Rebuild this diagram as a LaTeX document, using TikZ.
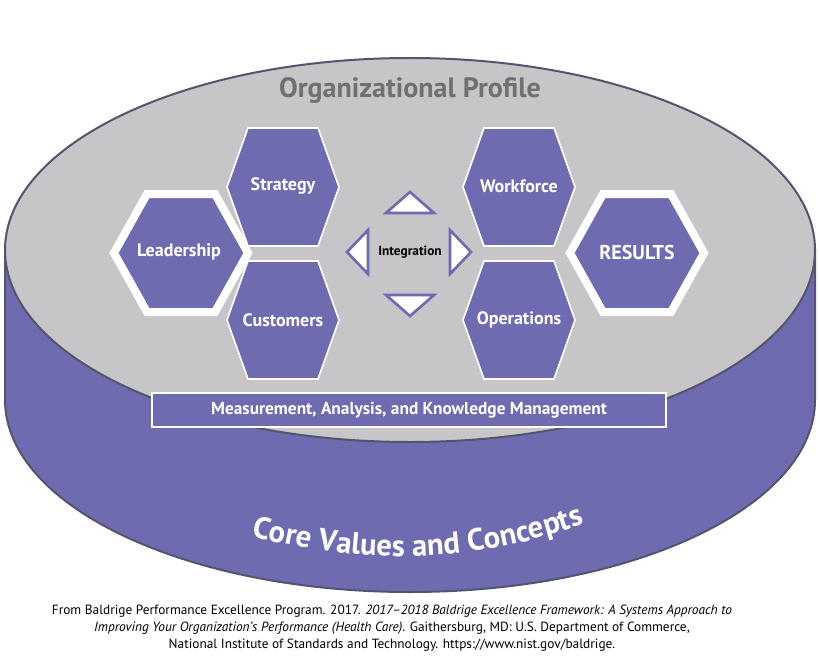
\documentclass[tikz,border=0pt]{standalone}
\usepackage{fontspec}
\setmainfont{PT Sans}
\usetikzlibrary{decorations.text}
\definecolor{hexpurple}{RGB}{111,107,176}
\definecolor{diskgray}{RGB}{198,198,200}
\definecolor{rimline}{RGB}{85,84,110}
\definecolor{titlegray}{RGB}{112,112,114}
% hexagon: centre x, centre y, half width, half top edge, half height
\newcommand{\hexshape}[6][]{\draw[#1] (#2-#4,#3) -- (#2-#5,#3-#6) -- (#2+#5,#3-#6) -- (#2+#4,#3) -- (#2+#5,#3+#6) -- (#2-#5,#3+#6) -- cycle;}
\tikzset{
  hexfill/.style={fill=hexpurple,draw=white,line width=1.2pt,line join=miter},
  bighex/.style={fill=hexpurple,draw=white,line width=6pt,line join=miter},
  hexlabel/.style={text=white,font=\bfseries\fontsize{13.5}{15}\selectfont},
  arrowtri/.style={fill=white,draw=hexpurple,line width=2pt,line join=miter},
}
\begin{document}
\begin{tikzpicture}[x=0.75pt,y=0.75pt,yscale=-1,xscale=1]
        \useasboundingbox (0,0) rectangle (820,667);
        \fill[white] (0,0) rectangle (820,667);
        % cylinder
        \draw[rimline,line width=1.5pt,fill=hexpurple] (5,250) -- (5,400) arc[start angle=180,end angle=0,x radius=405,y radius=192] -- (815,250) -- cycle;
        \draw[rimline,line width=1.5pt,fill=diskgray] (410,250) ellipse [x radius=405,y radius=192];
        \node (profile) at (410,90) {\textcolor{titlegray}{\bfseries\fontsize{21}{24}\selectfont Organizational Profile}};
        % hexagons
        \hexshape[hexfill]{283}{187}{56}{35}{59}
        \hexshape[hexfill]{283}{320}{56}{35}{59}
        \hexshape[hexfill]{519}{187}{56}{35}{59}
        \hexshape[hexfill]{519}{320}{56}{35}{59}
        \hexshape[bighex]{181}{253}{67}{34}{59}
        \hexshape[bighex]{637}{253}{67}{34}{59}
        \node[hexlabel] (strategy) at (283,186) {Strategy};
        \node[hexlabel] (customers) at (283,320) {Customers};
        \node[hexlabel] (workforce) at (519,186) {Workforce};
        \node[hexlabel] (operations) at (519,320) {Operations};
        \node[hexlabel] (leadership) at (179,252) {Leadership};
        \node[hexlabel,font=\bfseries\fontsize{15}{17}\selectfont] (results) at (637,252) {RESULTS};
        % integration
        \draw[arrowtri] (410,192) -- (434,213) -- (386,213) -- cycle;
        \draw[arrowtri] (410,316) -- (434,295) -- (386,295) -- cycle;
        \draw[arrowtri] (347,252) -- (368,230) -- (368,274) -- cycle;
        \draw[arrowtri] (471,252) -- (450,230) -- (450,274) -- cycle;
        \node[font=\bfseries\fontsize{10}{12}\selectfont] (integration) at (410,252) {Integration};
        % measurement bar
        \draw[fill=hexpurple,draw=white,line width=2pt] (152,393) rectangle (666,427);
        \node[text=white,font=\bfseries\fontsize{13}{15}\selectfont] (measure) at (409,410) {Measurement, Analysis, and Knowledge Management};
        % curved label
        \path[decorate,decoration={text along path,text align=center,text color=white,
          text={|\bfseries\fontsize{23}{26}\selectfont|Core Values and Concepts}}]
          (240,533) .. controls (360,566) and (470,566) .. (595,520);
        % source
        \node[align=center,font=\fontsize{10}{12.8}\selectfont] (source) at (392,628) {From Baldrige Performance Excellence Program. 2017. \textit{2017--2018 Baldrige Excellence Framework: A Systems Approach to}\\ \textit{Improving Your Organization's Performance (Health Care)}. Gaithersburg, MD: U.S. Department of Commerce,\\ National Institute of Standards and Technology. https://www.nist.gov/baldrige.};
\end{tikzpicture}
\end{document}
